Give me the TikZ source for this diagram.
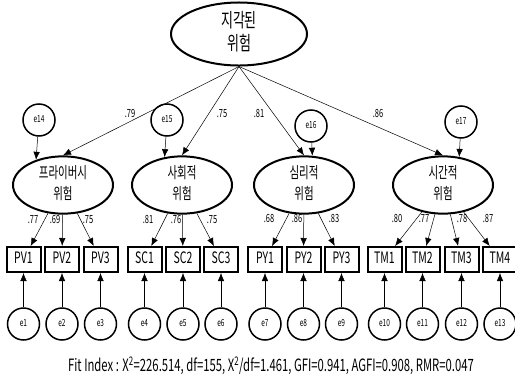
\documentclass[tikz,border=0pt]{standalone}
\usepackage{fontspec,graphicx}
\setmainfont{Noto Sans CJK KR}
\usetikzlibrary{shapes.geometric,arrows.meta}

% text of the figure is drawn tall and narrow
\newcommand{\tall}[1]{\scalebox{1}[1.5]{\begin{tabular}{@{}c@{}}#1\end{tabular}}}

\begin{document}
\begin{tikzpicture}[x=1pt,y=-1pt,
  latent/.style={ellipse,draw,line width=2pt,inner sep=0pt,minimum width=100pt,minimum height=50pt,font=\fontsize{10.5}{13.5}\selectfont},
  obs/.style={rectangle,draw,line width=2pt,minimum width=34pt,minimum height=25pt,inner sep=0pt,font=\fontsize{10.5}{12}\selectfont},
  err/.style={circle,draw,line width=1.5pt,minimum size=32pt,inner sep=0pt,font=\fontsize{6.5}{7}\selectfont},
  load/.style={line width=0.5pt,-{Latex[length=8pt,width=6.5pt]}},
  coef/.style={inner sep=0pt,font=\fontsize{7.5}{8}\selectfont}]

\useasboundingbox (0,0) rectangle (515,381);

% top factor
\node[latent,minimum width=136pt,minimum height=58pt,font=\fontsize{13}{13.5}\selectfont] (risk) at (239,34) {\tall{지각된\\위험}};

% second order factors
\node[latent] (pv) at (63,185) {\tall{프라이버시\\위험}};
\node[latent] (sc) at (182,185) {\tall{사회적\\위험}};
\node[latent] (py) at (304,185) {\tall{심리적\\위험}};
\node[latent] (tm) at (443,185) {\tall{시간적\\위험}};

\node[err] (e14) at (39,120) {\tall{e14}};
\node[err] (e15) at (167,120) {\tall{e15}};
\node[err] (e16) at (311,126) {\tall{e16}};
\node[err] (e17) at (461,122) {\tall{e17}};

\draw [load] (risk.south) -- (pv.north);
\draw [load] (risk.south) -- (sc.north);
\draw [load] (risk.south) -- (py.north);
\draw [load] (risk.south) -- (tm.north);

\draw [load] (e14) -- (pv.137);
\draw [load] (e15) -- (sc.122);
\draw [load] (e16) -- (py.74);
\draw [load] (e17) -- (tm.60);

\node[coef] (c-pv) at (130,115) {\tall{.79}};
\node[coef] (c-sc) at (222,115) {\tall{.75}};
\node[coef] (c-py) at (259,115) {\tall{.81}};
\node[coef] (c-tm) at (378,115) {\tall{.86}};

% indicators
\node[obs] (PV1) at (23.5,259.5) {\tall{PV1}};
\node[obs] (PV2) at (62,259.5) {\tall{PV2}};
\node[obs] (PV3) at (100.5,259.5) {\tall{PV3}};
\node[obs] (SC1) at (144.5,259.5) {\tall{SC1}};
\node[obs] (SC2) at (183,259.5) {\tall{SC2}};
\node[obs] (SC3) at (221,259.5) {\tall{SC3}};
\node[obs] (PY1) at (265,259.5) {\tall{PY1}};
\node[obs] (PY2) at (303.5,259.5) {\tall{PY2}};
\node[obs] (PY3) at (341.5,259.5) {\tall{PY3}};
\node[obs] (TM1) at (384.5,259.5) {\tall{TM1}};
\node[obs] (TM2) at (422.5,259.5) {\tall{TM2}};
\node[obs] (TM3) at (461.5,259.5) {\tall{TM3}};
\node[obs] (TM4) at (500,259.5) {\tall{TM4}};

\draw [load] (pv) -- (PV1);
\draw [load] (pv) -- (PV2);
\draw [load] (pv) -- (PV3);
\draw [load] (sc) -- (SC1);
\draw [load] (sc) -- (SC2);
\draw [load] (sc) -- (SC3);
\draw [load] (py) -- (PY1);
\draw [load] (py) -- (PY2);
\draw [load] (py) -- (PY3);
\draw [load] (tm) -- (TM1);
\draw [load] (tm) -- (TM2);
\draw [load] (tm) -- (TM3);
\draw [load] (tm) -- (TM4);

\node[coef] (c-pv1) at (33,221) {\tall{.77}};
\node[coef] (c-pv2) at (55,221) {\tall{.69}};
\node[coef] (c-pv3) at (88,221) {\tall{.75}};
\node[coef] (c-sc1) at (148,221) {\tall{.81}};
\node[coef] (c-sc2) at (176,221) {\tall{.76}};
\node[coef] (c-sc3) at (212,221) {\tall{.75}};
\node[coef] (c-py1) at (269,220) {\tall{.68}};
\node[coef] (c-py2) at (297,220) {\tall{.86}};
\node[coef] (c-py3) at (334,220) {\tall{.83}};
\node[coef] (c-tm1) at (397,220) {\tall{.80}};
\node[coef] (c-tm2) at (424,220) {\tall{.77}};
\node[coef] (c-tm3) at (462,220) {\tall{.78}};
\node[coef] (c-tm4) at (488,220) {\tall{.87}};

% measurement errors
\node[err] (e1) at (23.5,324) {\tall{e1}};
\node[err] (e2) at (62,324) {\tall{e2}};
\node[err] (e3) at (100.5,324) {\tall{e3}};
\node[err] (e4) at (144.5,324) {\tall{e4}};
\node[err] (e5) at (183,324) {\tall{e5}};
\node[err] (e6) at (221,324) {\tall{e6}};
\node[err] (e7) at (265,324) {\tall{e7}};
\node[err] (e8) at (303.5,324) {\tall{e8}};
\node[err] (e9) at (341.5,324) {\tall{e9}};
\node[err] (e10) at (384.5,324) {\tall{e10}};
\node[err] (e11) at (422.5,324) {\tall{e11}};
\node[err] (e12) at (461.5,324) {\tall{e12}};
\node[err] (e13) at (500,324) {\tall{e13}};

\draw [load] (e1) -- (PV1);
\draw [load] (e2) -- (PV2);
\draw [load] (e3) -- (PV3);
\draw [load] (e4) -- (SC1);
\draw [load] (e5) -- (SC2);
\draw [load] (e6) -- (SC3);
\draw [load] (e7) -- (PY1);
\draw [load] (e8) -- (PY2);
\draw [load] (e9) -- (PY3);
\draw [load] (e10) -- (TM1);
\draw [load] (e11) -- (TM2);
\draw [load] (e12) -- (TM3);
\draw [load] (e13) -- (TM4);

\node[font=\fontsize{11.3}{12}\selectfont] (fit) at (271,367) {\tall{Fit Index : X\textsuperscript{2}=226.514, df=155, X\textsuperscript{2}/df=1.461, GFI=0.941, AGFI=0.908, RMR=0.047}};
\end{tikzpicture}
\end{document}
